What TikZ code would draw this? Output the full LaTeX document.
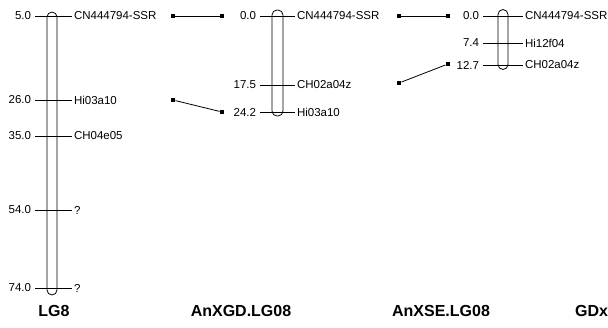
\documentclass[tikz,border=0pt]{standalone}
\usepackage{fontspec}
\setmainfont{Liberation Sans}
\usetikzlibrary{positioning}

\begin{document}
\begin{tikzpicture}[
    x=1pt, y=-1pt,
    chrom/.style={rectangle, draw, line width=0.8pt, rounded corners=5pt, minimum width=10pt, inner sep=0pt},
    tick/.style={line width=0.8pt},
    cmval/.style={anchor=east, inner sep=0pt, outer xsep=4pt, font=\fontsize{11.5}{13}\selectfont},
    mklabel/.style={anchor=west, inner sep=0pt, outer xsep=2pt, font=\fontsize{11.5}{13}\selectfont},
    dot/.style={rectangle, fill, inner sep=0pt, minimum size=4.5pt},
    link/.style={line width=0.8pt},
    title/.style={font=\bfseries\fontsize{16}{18}\selectfont, inner sep=0pt}
]
\clip (0,0) rectangle (608,327);

% LG8
\node [chrom, minimum height=283pt] (lg8) at (52,153.5) {};
\node [cmval] (v11) at (35,16) {5.0};
\node [mklabel] (m11) at (72,16) {CN444794-SSR};
\node [cmval] (v12) at (35,100) {26.0};
\node [mklabel] (m12) at (72,100) {Hi03a10};
\node [cmval] (v13) at (35,136) {35.0};
\node [mklabel] (m13) at (72,136) {CH04e05};
\node [cmval] (v14) at (35,210) {54.0};
\node [mklabel] (m14) at (72,210) {?};
\node [cmval] (v15) at (35,288) {74.0};
\node [mklabel] (m15) at (72,288) {?};
\draw [tick] (v11.east) -- (m11.west);
\draw [tick] (v12.east) -- (m12.west);
\draw [tick] (v13.east) -- (m13.west);
\draw [tick] (v14.east) -- (m14.west);
\draw [tick] (v15.east) -- (m15.west);

% AnXGD.LG08
\node [chrom, minimum height=106pt, minimum width=11pt] (gd) at (277.5,63) {};
\node [cmval] (v21) at (260,16) {0.0};
\node [mklabel] (m21) at (295,16) {CN444794-SSR};
\node [cmval] (v22) at (260,85) {17.5};
\node [mklabel] (m22) at (295,85) {CH02a04z};
\node [cmval] (v23) at (260,112) {24.2};
\node [mklabel] (m23) at (295,112) {Hi03a10};
\draw [tick] (v21.east) -- (m21.west);
\draw [tick] (v22.east) -- (m22.west);
\draw [tick] (v23.east) -- (m23.west);

% AnXSE.LG08
\node [chrom, minimum height=60pt] (se) at (503,39.5) {};
\node [cmval] (v31) at (483,16) {0.0};
\node [mklabel] (m31) at (523,16) {CN444794-SSR};
\node [cmval] (v32) at (483,43) {7.4};
\node [mklabel] (m32) at (523,43) {Hi12f04};
\node [cmval] (v33) at (483,65) {12.7};
\node [mklabel] (m33) at (523,65) {CH02a04z};
\draw [tick] (v31.east) -- (m31.west);
\draw [tick] (v32.east) -- (m32.west);
\draw [tick] (v33.east) -- (m33.west);

% links between maps
\node [dot] (a1) at (173,16) {};
\node [dot] (b1) at (222,16) {};
\node [dot] (a2) at (173,100) {};
\node [dot] (b2) at (222,112) {};
\node [dot] (a3) at (399,16) {};
\node [dot] (b3) at (448,16) {};
\node [dot] (a4) at (399,83) {};
\node [dot] (b4) at (448,64) {};
\draw [link] (a1) -- (b1);
\draw [link] (a2) -- (b2);
\draw [link] (a3) -- (b3);
\draw [link] (a4) -- (b4);

% titles
\node [title] (t1) at (54,311) {LG8};
\node [title] (t2) at (241,311) {AnXGD.LG08};
\node [title] (t3) at (441,311) {AnXSE.LG08};
\node [title, anchor=west] (t4) at (575,311) {GDx};

\end{tikzpicture}
\end{document}
